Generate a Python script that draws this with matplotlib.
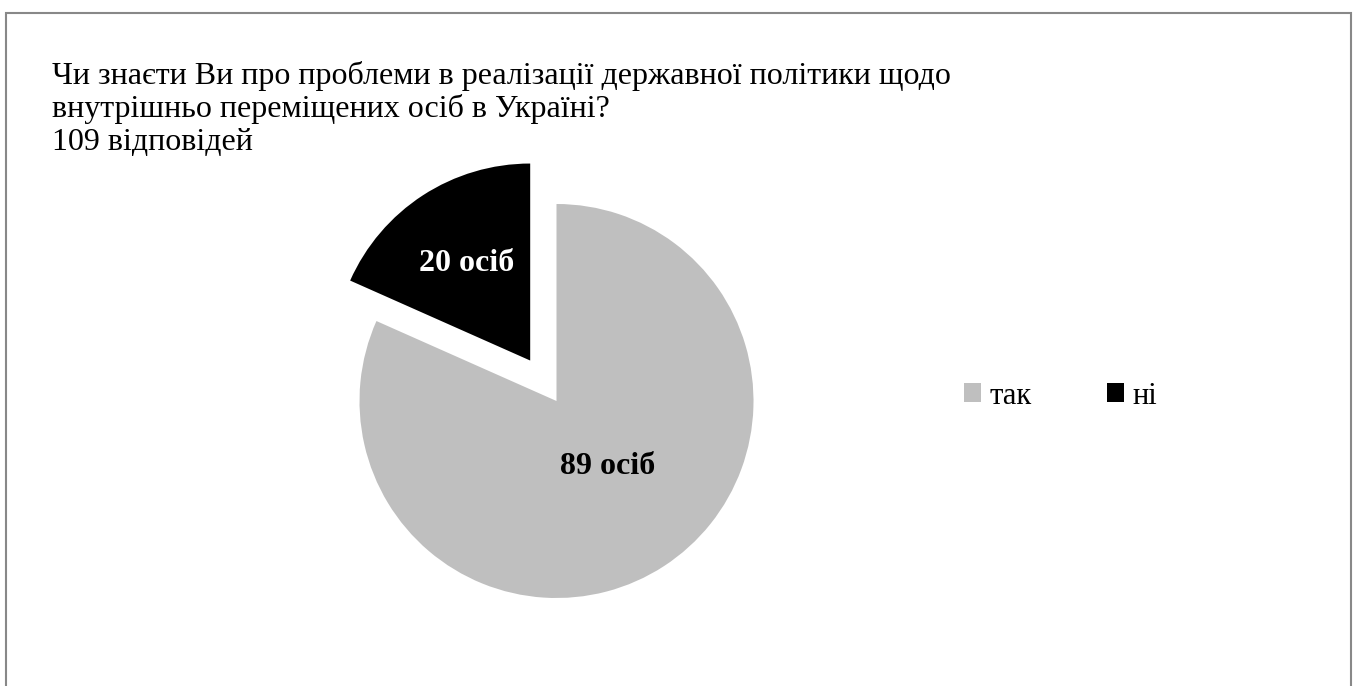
import matplotlib
matplotlib.use("Agg")
import matplotlib.pyplot as plt
from matplotlib.patches import Rectangle, Patch
import numpy as np

# Survey answers
categories = ["так", "ні"]
counts = [89, 20]
unit = "осіб"
title_lines = [
    "Чи знаєти Ви про проблеми в реалізації державної політики щодо",
    "внутрішньо переміщених осіб в Україні?",
    "109 відповідей",
]
colors = ["#bfbfbf", "#000000"]
label_colors = ["#000000", "#ffffff"]

W, H = 1358, 686
fig = plt.figure(figsize=(W / 100, H / 100), dpi=100)
fig.patch.set_facecolor("white")

# Axes in pixel units (y up) spanning the whole canvas
ax = fig.add_axes([0, 0, 1, 1])
cx, cy, r = 556.5, H - 401, 197
explode = [0, 0.245]          # fraction of the radius
wedges, _ = ax.pie(counts, colors=colors, startangle=90, counterclock=False,
                   explode=[e * r for e in explode], center=(cx, cy), radius=r,
                   wedgeprops=dict(linewidth=0))
ax.set_xlim(0, W)
ax.set_ylim(0, H)
ax.set_aspect("equal")
ax.axis("off")

# Value labels inside the slices (distance and small angular shift per slice)
label_dist = [0.42, 0.59]
label_shift = [5.0, 0.0]
for w, n, ex, d, sh, tc in zip(wedges, counts, explode, label_dist,
                               label_shift, label_colors):
    mid = np.deg2rad((w.theta1 + w.theta2) / 2 + sh)
    x = cx + (ex + d) * r * np.cos(mid)
    y = cy + (ex + d) * r * np.sin(mid)
    ax.text(x, y, f"{n} {unit}", ha="center", va="center", color=tc,
            fontsize=23, fontweight="bold", family="Liberation Serif")

# Title block
for i, line in enumerate(title_lines):
    fig.text(52 / W, 1 - (76 + 33 * i) / H, line, ha="left", va="center",
             fontsize=23, family="Liberation Serif", color="black")

# Legend
handles = [Patch(facecolor=c, edgecolor="none") for c in colors]
leg = fig.legend(handles, categories, loc="center left",
                 bbox_to_anchor=(964 / W, 1 - 396 / H), ncol=2, frameon=False,
                 prop=dict(family="Liberation Serif", size=22),
                 handlelength=0.55, handleheight=0.55, handletextpad=0.3,
                 columnspacing=2.45, borderaxespad=0, borderpad=0)

# Outer frame (open at the bottom edge of the canvas)
fig.patches.append(Rectangle((6 / W, -0.05), (1351 - 6) / W, 1.05 - 13 / H,
                             transform=fig.transFigure, fill=False,
                             edgecolor="#888888", linewidth=1.5))

fig.savefig("out.png", dpi=100, facecolor="white")
